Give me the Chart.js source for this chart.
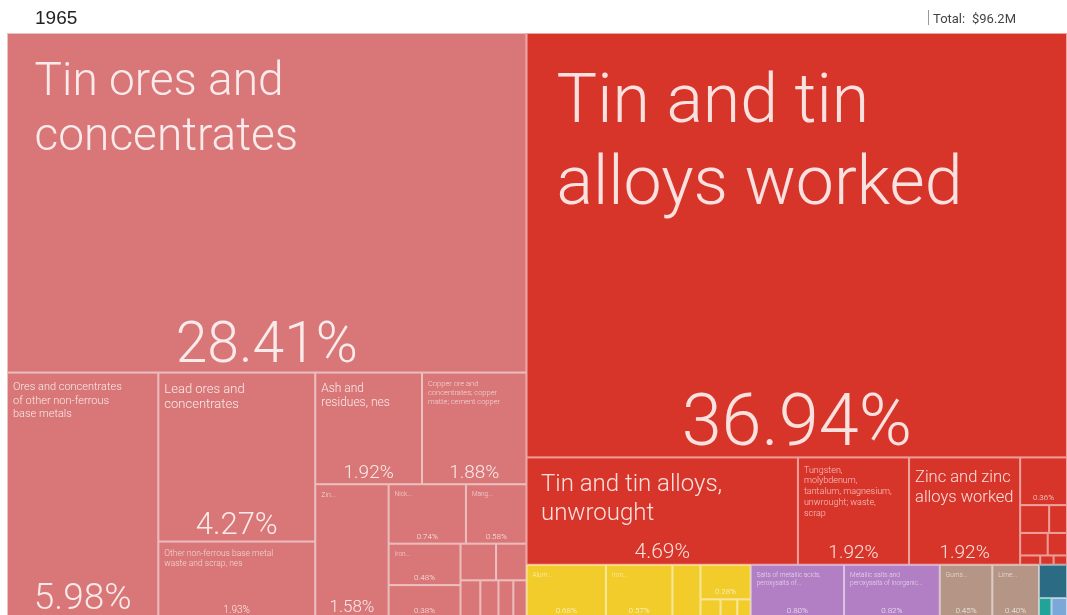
<!DOCTYPE html>
<html>
<head>
<meta charset="utf-8">
<script src="https://cdn.jsdelivr.net/npm/chart.js@4.4.1/dist/chart.umd.min.js"></script>
<style>
  html, body { margin: 0; padding: 0; background: #fff; }
  canvas { display: block; }
</style>
</head>
<body>
<canvas id="treemap" width="1067" height="615"></canvas>
<script>
// header texts
const yearLabel = '1965';
const totalLabel = ['Total:', '$96.2M'];

// share of exports (%) per product, grouped by colour family
const pinkNames = [
  'Tin ores and concentrates',
  'Ores and concentrates of other non-ferrous base metals',
  'Lead ores and concentrates',
  'Other non-ferrous base metal waste and scrap, nes',
  'Ash and residues, nes',
  'Copper ore and concentrates; copper matte; cement copper',
  'Zinc ores and concentrates',
  'Nickel ores and concentrates',
  'Manganese ores and concentrates',
  'Iron ore and concentrates',
  'Precious metal ores',
  'Aluminium ores',
  'Silver ores',
  'Uranium ores', 'Chromium ores', 'Waste of iron', 'Slag'
];
const pinkValues = [28.41, 5.98, 4.27, 1.93, 1.92, 1.88, 1.58, 0.74, 0.58, 0.48, 0.38, 0.21, 0.18, 0.12, 0.11, 0.09, 0.08];

const redNames = [
  'Tin and tin alloys worked',
  'Tin and tin alloys, unwrought',
  'Tungsten, molybdenum, tantalum, magnesium, unwrought; waste, scrap',
  'Zinc and zinc alloys worked',
  'Lead and lead alloys worked', 'Copper alloys', 'Aluminium worked',
  'Nickel worked', 'Silver', 'Zinc unwrought', 'Lead unwrought', 'Copper'
];
const redValues = [36.94, 4.69, 1.92, 1.92, 0.36, 0.13, 0.08, 0.10, 0.07, 0.03, 0.02, 0.02];

const yellowNames = ['Aluminium, lead or zinc', 'Iron...', 'Tools', 'Hand tools', 'Nails', 'Wire', 'Screws'];
const yellowValues = [0.68, 0.57, 0.24, 0.28, 0.06, 0.05, 0.04];

const purpleNames = ['Salts of metallic acids; peroxysalts of...', 'Metallic salts and peroxysalts of inorganic...'];
const purpleValues = [0.80, 0.82];

const tanNames = ['Gums...', 'Lime...'];
const tanValues = [0.45, 0.40];

const tealNames = ['Machinery', 'Pumps', 'Engines'];
const tealValues = [0.15, 0.04, 0.05];

// how the cells are nested: first entry is the split direction
const pinkTree = ['y', 0, ['x', 1, ['y', 2, 3], ['y', ['x', 4, 5], ['x', 6, ['y', ['x', 7, 8], ['x', ['y', 9, 10], ['y', ['x', 11, 12], ['x', 13, 14, 15, 16]]]]]]]];
const redTree = ['y', 0, ['x', 1, 2, 3, ['y', 4, ['x', 5, 6], ['x', 7, 8], ['x', 9, 10, 11]]]];
const yellowTree = ['x', 0, 1, 2, ['y', 3, ['x', 4, 5, 6]]];
const purpleTree = ['x', 0, 1];
const tanTree = ['x', 0, 1];
const tealTree = ['y', 0, ['x', 1, 2]];

const groups = {
  pink:   { names: pinkNames,   values: pinkValues,   tree: pinkTree,   colors: ['#d97677'] },
  red:    { names: redNames,    values: redValues,    tree: redTree,    colors: ['#d8352a'] },
  yellow: { names: yellowNames, values: yellowValues, tree: yellowTree, colors: ['#f1cc2b'] },
  purple: { names: purpleNames, values: purpleValues, tree: purpleTree, colors: ['#b27ec4'] },
  tan:    { names: tanNames,    values: tanValues,    tree: tanTree,    colors: ['#b59686'] },
  teal:   { names: tealNames,   values: tealValues,   tree: tealTree,   colors: ['#2b6b84', '#22a39a', '#7ba7d9'] }
};

// font sizes for the big labels [name, percent]
const labelFont = {
  'Tin ores and concentrates': [46, 57],
  'Tin and tin alloys worked': [68, 72],
  'Ores and concentrates of other non-ferrous base metals': [11, 37],
  'Lead ores and concentrates': [13, 31],
  'Other non-ferrous base metal waste and scrap, nes': [8.5, 10],
  'Ash and residues, nes': [12, 19],
  'Copper ore and concentrates; copper matte; cement copper': [7.5, 19],
  'Zinc ores and concentrates': [7, 17],
  'Tin and tin alloys, unwrought': [24, 21],
  'Tungsten, molybdenum, tantalum, magnesium, unwrought; waste, scrap': [9, 19],
  'Zinc and zinc alloys worked': [16.5, 19]
};

function resolve(tree, key) {
  if (typeof tree === 'number') return { group: key, index: tree };
  return [tree[0], ...tree.slice(1).map(t => resolve(t, key))];
}

const rootTree = ['x', resolve(pinkTree, 'pink'),
  ['y', resolve(redTree, 'red'),
    ['x', resolve(yellowTree, 'yellow'), resolve(purpleTree, 'purple'), resolve(tanTree, 'tan'), resolve(tealTree, 'teal')]]];

function sumOf(node) {
  if (!Array.isArray(node)) return groups[node.group].values[node.index];
  return node.slice(1).reduce((s, n) => s + sumOf(n), 0);
}

function layout(node, x0, y0, x1, y1, out) {
  if (!Array.isArray(node)) {
    out.push({ leaf: node, x0, y0, x1, y1 });
    return out;
  }
  const dir = node[0];
  const kids = node.slice(1);
  const total = sumOf(node);
  let pos = dir === 'x' ? x0 : y0;
  kids.forEach(k => {
    const span = (dir === 'x' ? x1 - x0 : y1 - y0) * sumOf(k) / total;
    if (dir === 'x') layout(k, pos, y0, pos + span, y1, out);
    else layout(k, x0, pos, x1, pos + span, out);
    pos += span;
  });
  return out;
}

const FONT = 'Roboto, "Open Sans", sans-serif';

function wrap(ctx, text, maxW) {
  const words = text.split(' ');
  const lines = [];
  let line = '';
  words.forEach(w => {
    const test = line ? line + ' ' + w : w;
    if (ctx.measureText(test).width > maxW && line) {
      lines.push(line);
      line = w;
    } else line = test;
  });
  if (line) lines.push(line);
  return lines;
}

const treemapPlugin = {
  id: 'treemapCells',
  afterDatasetsDraw(chart) {
    const ctx = chart.ctx;
    const xs = chart.scales.x, ys = chart.scales.y;
    const area = chart.chartArea;
    const cells = layout(rootTree, 0, 0, 100, 100, []);
    ctx.save();
    ctx.beginPath();
    ctx.rect(area.left, area.top, area.right - area.left, area.bottom - area.top);
    ctx.clip();
    cells.forEach(c => {
      const g = groups[c.leaf.group];
      const name = g.names[c.leaf.index];
      const value = g.values[c.leaf.index];
      const px0 = xs.getPixelForValue(c.x0), px1 = xs.getPixelForValue(c.x1);
      const py0 = ys.getPixelForValue(c.y0), py1 = ys.getPixelForValue(c.y1);
      const w = px1 - px0, h = py1 - py0;
      ctx.fillStyle = g.colors[Math.min(c.leaf.index, g.colors.length - 1)];
      ctx.fillRect(px0, py0, w, h);
      ctx.strokeStyle = 'rgba(255,255,255,0.55)';
      ctx.lineWidth = 1;
      ctx.strokeRect(px0 + 0.5, py0 + 0.5, w - 1, h - 1);

      const fonts = labelFont[name];
      const nameSize = fonts ? fonts[0] : 6.5;
      const pctSize = fonts ? fonts[1] : 8;
      ctx.save();
      ctx.beginPath();
      ctx.rect(px0, py0, w, h);
      ctx.clip();
      if (value >= 0.4 && w >= 45 && h >= 30) {
        ctx.font = '300 ' + nameSize + 'px ' + FONT;
        ctx.fillStyle = nameSize >= 10 ? 'rgba(255,255,255,0.85)' : 'rgba(255,255,255,0.7)';
        ctx.textAlign = 'left';
        ctx.textBaseline = 'top';
        const padX = nameSize >= 20 ? Math.min(30, nameSize * 0.6) : 6;
        const padY = 4 + nameSize * 0.5;
        const maxW = nameSize <= 12 ? w * 0.8 : w - 2 * padX;
        let lines;
        if (w < 90 && !fonts) lines = [name.split(' ')[0].slice(0, 4) + '...'];
        else if (w < 90 && fonts && nameSize <= 7) lines = [name.slice(0, 3) + '...'];
        else lines = wrap(ctx, name, maxW);
        lines.forEach((ln, i) => ctx.fillText(ln, px0 + padX, py0 + padY + i * nameSize * 1.2));
      }
      if (value >= 0.2 && w >= 38 && h >= 28) {
        ctx.font = '300 ' + pctSize + 'px ' + FONT;
        ctx.fillStyle = 'rgba(255,255,255,0.85)';
        ctx.textAlign = 'center';
        ctx.textBaseline = 'alphabetic';
        ctx.fillText(value.toFixed(2) + '%', px0 + w / 2, py1 - 4 - pctSize * 0.12);
      }
      ctx.restore();
    });
    ctx.restore();

    // header
    ctx.save();
    ctx.fillStyle = '#222';
    ctx.font = '19px "Liberation Sans Narrow", "Liberation Sans", Arial, sans-serif';
    ctx.textBaseline = 'alphabetic';
    ctx.textAlign = 'left';
    ctx.fillText(yearLabel, 35, 24);
    ctx.strokeStyle = '#999';
    ctx.beginPath();
    ctx.moveTo(928.5, 10);
    ctx.lineTo(928.5, 25);
    ctx.stroke();
    ctx.fillStyle = '#444';
    ctx.font = '13px ' + FONT;
    ctx.fillText(totalLabel[0], 933, 23);
    ctx.fillText(totalLabel[1], 972, 23);
    ctx.restore();
  }
};

const ctx = document.getElementById('treemap').getContext('2d');
const myChart = new Chart(ctx, {
  type: 'scatter',
  data: { datasets: [{ data: [] }] },
  options: {
    responsive: false,
    animation: false,
    layout: { padding: { left: 7, top: 33, right: 0, bottom: 0 } },
    plugins: { legend: { display: false }, tooltip: { enabled: false } },
    scales: {
      x: { type: 'linear', min: 0, max: 100, display: false },
      y: { type: 'linear', min: 0, max: 99.5, reverse: true, display: false }
    }
  },
  plugins: [treemapPlugin]
});
</script>
</body>
</html>
